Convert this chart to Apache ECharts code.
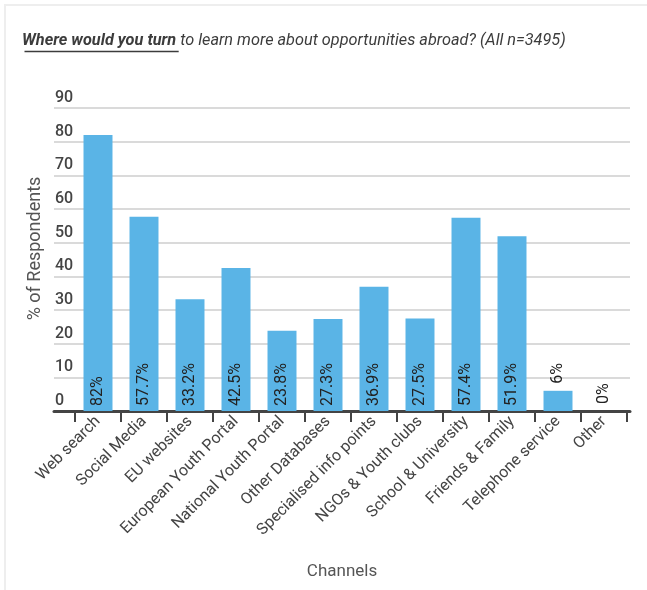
<!DOCTYPE html>
<html>
<head>
<meta charset="utf-8">
<script src="https://cdn.jsdelivr.net/npm/echarts@6/dist/echarts.min.js"></script>
<style>
  html, body { margin: 0; padding: 0; background: #fff; }
  #frame { position: absolute; left: 4px; top: 4px; width: 643px; height: 586px; border-left: 2px solid #eeeeee; border-top: 2px solid #eeeeee; }
  #chart { position: absolute; left: 0; top: 0; width: 647px; height: 590px; }
</style>
</head>
<body>
<div id="frame"></div>
<div id="chart"></div>
<script>
const titleBold = 'Where would you turn';
const titleRest = ' to learn more about opportunities abroad? (All n=3495)';
const categories = ['Web search', 'Social Media', 'EU websites', 'European Youth Portal', 'National Youth Portal', 'Other Databases', 'Specialised info points', 'NGOs & Youth clubs', 'School & University', 'Friends & Family', 'Telephone service', 'Other'];
const values = [82, 57.7, 33.2, 42.5, 23.8, 27.3, 36.9, 27.5, 57.4, 51.9, 6, 0];
const yMin = 0, yMax = 90, yStep = 10;
const xName = 'Channels';
const yName = '% of Respondents';

const FONT = 'Roboto, "Noto Sans", sans-serif';
const BLUE = '#5ab4e6';
const TITLE_SIZE = 16.3;

const chart = echarts.init(document.getElementById('chart'), null, { renderer: 'canvas' });

// measure underline width
const cv = document.createElement('canvas').getContext('2d');
cv.font = 'italic bold ' + TITLE_SIZE + 'px Roboto';
const ulWidth = cv.measureText(titleBold).width;

const option = {
  animation: false,
  backgroundColor: 'transparent',
  title: {
    left: 22, top: 33, padding: 0,
    text: '{b|' + titleBold + '}{n|' + titleRest + '}',
    textStyle: {
      rich: {
        b: { fontFamily: FONT, fontSize: TITLE_SIZE, fontStyle: 'italic', fontWeight: 'bold', color: '#3c3c3c' },
        n: { fontFamily: FONT, fontSize: TITLE_SIZE, fontStyle: 'italic', fontWeight: 'normal', color: '#3c3c3c' }
      }
    }
  },
  graphic: [{
    type: 'line', left: 22, top: 49,
    shape: { x1: 0, y1: 0, x2: ulWidth, y2: 0 },
    style: { stroke: '#3c3c3c', lineWidth: 1.3 }
  }],
  grid: [
    { left: 54, right: 17, top: 108, bottom: 179 },
    { left: 75, right: 20, top: 108, bottom: 179 }
  ],
  xAxis: [
    {
      gridIndex: 0, type: 'value', min: 0, max: 1,
      axisLine: { show: true, onZero: false, lineStyle: { color: '#444', width: 3 } },
      axisTick: { show: false }, axisLabel: { show: false }, splitLine: { show: false },
      name: xName, nameLocation: 'middle', nameGap: 152,
      nameTextStyle: { fontFamily: FONT, fontSize: 17, color: '#555' }
    },
    {
      gridIndex: 1, type: 'category', data: categories,
      axisLine: { show: false },
      axisTick: { show: true, length: 11, lineStyle: { color: '#444', width: 2 } },
      axisLabel: { rotate: 45, margin: 8, interval: 0, fontFamily: FONT, fontSize: 16, color: '#444' }
    }
  ],
  yAxis: [
    {
      gridIndex: 0, type: 'value', min: yMin, max: yMax, interval: yStep,
      axisLine: { show: false }, axisTick: { show: false },
      axisLabel: { inside: true, margin: 1, verticalAlign: 'bottom', padding: [0, 0, 2, 0], fontFamily: FONT, fontSize: 16, fontWeight: 500, color: '#444' },
      splitLine: { show: true, lineStyle: { color: '#dadada', width: 2 } },
      name: yName, nameLocation: 'middle', nameGap: 7,
      nameTextStyle: { fontFamily: FONT, fontSize: 18, color: '#555', padding: [0, 0, 0, 22] }
    },
    {
      gridIndex: 1, type: 'value', min: yMin, max: yMax, interval: yStep, show: false
    }
  ],
  series: [{
    type: 'bar', xAxisIndex: 1, yAxisIndex: 1,
    barWidth: '63%',
    itemStyle: { color: BLUE },
    data: values.map(v => ({
      value: v,
      label: v < 10
        ? { position: 'top', distance: 7 }
        : { position: 'insideBottom', distance: 5 }
    })),
    label: {
      show: true, rotate: 90, align: 'left', verticalAlign: 'middle',
      formatter: p => p.value + '%',
      fontFamily: FONT, fontSize: 16, color: '#222'
    }
  }]
};
chart.setOption(option);
</script>
</body>
</html>
